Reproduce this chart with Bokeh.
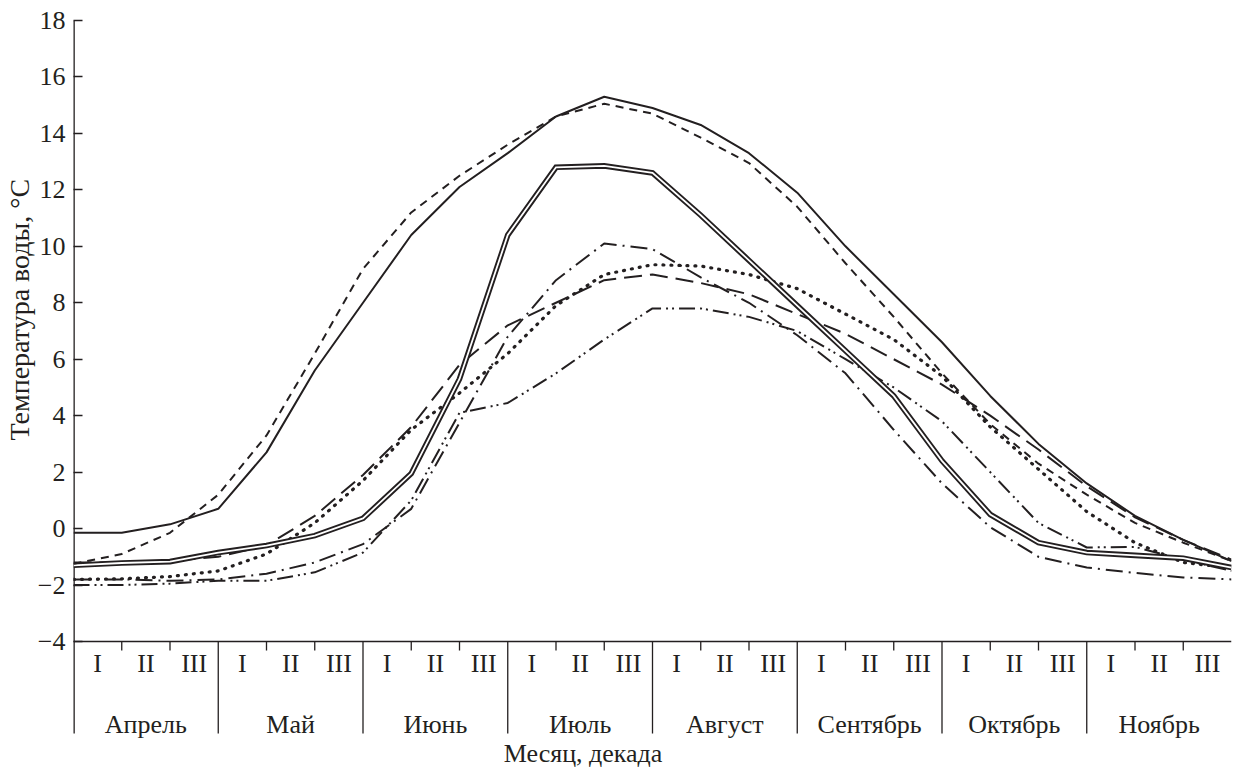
from bokeh.plotting import figure
from bokeh.models import Range1d, FixedTicker, Title, ColumnDataSource
from bokeh.embed import file_html
from bokeh.resources import INLINE
from bokeh.core.properties import value

# ---------------- data ----------------
months = ["Апрель", "Май", "Июнь", "Июль", "Август", "Сентябрь", "Октябрь", "Ноябрь"]
decades = ["I", "II", "III"]
# decade boundaries (0 = start of April I ... 24 = end of November III)
edges = list(range(25))

solid = [-0.15, -0.15, 0.15, 0.7, 2.7, 5.6, 8.0, 10.4, 12.1, 13.3, 14.6, 15.3, 14.9,
         14.3, 13.3, 11.9, 10.0, 8.3, 6.6, 4.7, 3.0, 1.6, 0.45, -0.4, -1.15]
dashed = [-1.25, -0.9, -0.15, 1.2, 3.3, 6.2, 9.2, 11.2, 12.5, 13.6, 14.6, 15.05, 14.7,
          13.85, 12.95, 11.4, 9.4, 7.5, 5.5, 3.7, 2.3, 1.2, 0.2, -0.5, -1.15]
double = [-1.3, -1.22, -1.17, -0.85, -0.6, -0.25, 0.36, 1.95, 5.3, 10.4, 12.8, 12.85, 12.6,
          11.1, 9.5, 7.9, 6.3, 4.7, 2.4, 0.5, -0.5, -0.85, -0.95, -1.05, -1.38]
dashdot = [-1.8, -1.8, -1.85, -1.8, -1.6, -1.2, -0.55, 0.7, 3.75, 6.8, 8.8, 10.1, 9.9,
           8.9, 8.0, 6.85, 5.5, 3.5, 1.6, 0.05, -1.0, -1.38, -1.57, -1.73, -1.8]
dotted = [-1.8, -1.78, -1.7, -1.5, -0.9, 0.2, 1.7, 3.5, 4.8, 6.2, 7.9, 9.0, 9.35,
          9.3, 9.0, 8.5, 7.6, 6.7, 5.4, 3.6, 2.1, 0.6, -0.5, -1.2, -1.4]
longdash = [-1.2, -1.2, -1.15, -1.0, -0.6, 0.45, 1.9, 3.6, 5.8, 7.2, 8.0, 8.8, 9.0,
            8.7, 8.3, 7.6, 6.9, 6.0, 5.1, 4.0, 2.8, 1.5, 0.4, -0.4, -1.1]
dashdotdot = [-2.0, -2.0, -1.95, -1.85, -1.85, -1.55, -0.85, 1.0, 4.1, 4.45, 5.5, 6.7, 7.8,
              7.8, 7.5, 7.0, 6.0, 5.0, 3.8, 2.0, 0.2, -0.67, -0.65, -1.1, -1.5]

y_ticks = [-4, -2, 0, 2, 4, 6, 8, 10, 12, 14, 16, 18]
y_tick_labels = ["−4", "−2", "0", "2", "4", "6", "8", "10", "12", "14", "16", "18"]

y_title = "Температура воды, °C"
x_title = "Месяц, декада"

# ---------------- figure ----------------
INK = "#231f20"
FONT = "Liberation Serif"
FS = "26px"

Y_MIN, Y_MAX = -4, 18
Y_BOTTOM = -8.535      # bottom of canvas, below the x title
Y_DIV = -7.26          # lower end of the month dividers / y axis line

p = figure(width=1233, height=769, output_backend="svg", toolbar_location=None,
           x_axis_location=None, min_border_left=73, min_border_right=2,
           min_border_top=20, min_border_bottom=0)
p.x_range = Range1d(0, 24)
p.y_range = Range1d(Y_BOTTOM, Y_MAX)
p.grid.visible = False
p.outline_line_color = None
p.background_fill_color = "white"
p.border_fill_color = "white"

ax = p.yaxis[0]
ax.ticker = FixedTicker(ticks=y_ticks)
ax.major_label_overrides = {t: l for t, l in zip(y_ticks, y_tick_labels)}
ax.major_tick_in = 9
ax.major_tick_out = 0
ax.minor_tick_line_color = None
ax.axis_line_color = None
ax.major_tick_line_color = INK
ax.major_tick_line_width = 1.3
ax.major_label_text_font = FONT
ax.major_label_text_font_size = FS
ax.major_label_text_color = INK
ax.major_label_standoff = 8

p.add_layout(Title(text=y_title, align="left", offset=329, standoff=0,
                   text_font=FONT, text_font_size="28px", text_font_style="normal",
                   text_color=INK), "left")

# y axis line, x axis base line, decade ticks, month dividers
p.segment(x0=[edges[0]], y0=[Y_DIV], x1=[edges[0]], y1=[Y_MAX], line_color=INK,
          line_width=2.6)
p.segment(x0=[edges[0]], y0=[Y_MIN], x1=[edges[-1]], y1=[Y_MIN], line_color=INK,
          line_width=1.3)
tick_x = [e for e in edges[1:-1] if e % 3 != 0]
p.segment(x0=tick_x, y0=[Y_MIN] * len(tick_x), x1=tick_x, y1=[-4.32] * len(tick_x),
          line_color=INK, line_width=1.3)
div_x = [e for e in edges[1:-1] if e % 3 == 0]
p.segment(x0=div_x, y0=[Y_MIN] * len(div_x), x1=div_x, y1=[Y_DIV] * len(div_x),
          line_color=INK, line_width=1.3)

# decade, month labels and x title
dec_x = [i + 0.5 for i in range(24)]
dec_t = [decades[i % 3] for i in range(24)]
p.text(x=dec_x, y=[-4.78] * 24, text=dec_t, text_align="center",
       text_baseline="middle", text_font=value(FONT), text_font_size=FS,
       text_color=INK)
mon_x = [3 * m + 1.5 for m in range(len(months))]
p.text(x=mon_x, y=[-6.94] * len(months), text=months, text_align="center",
       text_baseline="middle", text_font=value(FONT), text_font_size=FS,
       text_color=INK)
p.text(x=[10.56], y=[-7.97], text=[x_title], text_align="center",
       text_baseline="middle", text_font=value(FONT), text_font_size=FS,
       text_color=INK)

# series
src = ColumnDataSource(dict(x=edges, solid=solid, dashed=dashed, double=double,
                            dashdot=dashdot, dotted=dotted, longdash=longdash,
                            dashdotdot=dashdotdot))

p.line("x", "dashdotdot", source=src, line_color=INK, line_width=2.0,
       line_dash="16 5 2 4 2 5")
p.line("x", "dashdot", source=src, line_color=INK, line_width=2.0, line_dash="17 6 2 6")
p.line("x", "longdash", source=src, line_color=INK, line_width=2.0, line_dash="18 8")
p.line("x", "dotted", source=src, line_color=INK, line_width=3.2, line_dash="1 7",
       line_cap="round")
p.line("x", "double", source=src, line_color=INK, line_width=5.6, line_join="miter")
p.line("x", "double", source=src, line_color="white", line_width=1.8, line_join="miter")
p.line("x", "dashed", source=src, line_color=INK, line_width=2.0, line_dash="8 6")
p.line("x", "solid", source=src, line_color=INK, line_width=2.0)

open("out.html", "w").write(file_html(p, INLINE))
